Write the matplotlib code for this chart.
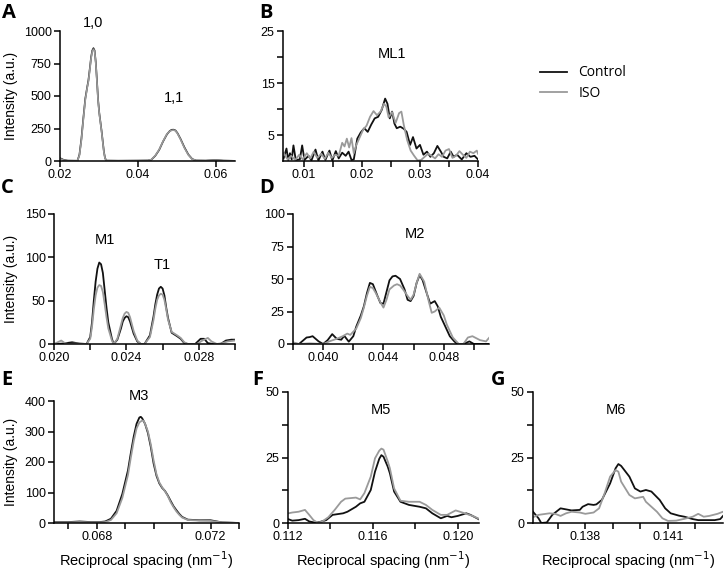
import numpy as np
import matplotlib
matplotlib.use('Agg')
import matplotlib.pyplot as plt

plt.rcParams['font.family'] = ['Liberation Sans', 'DejaVu Sans']

# ---- data ----
# A : equatorial 1,0 and 1,1
a_x_ctrl = [0.0200, 0.0205, 0.0210, 0.0220, 0.0240, 0.0245, 0.0250, 0.0255, 0.0260, 0.0265, 0.0270, 0.0273,
            0.0277, 0.0280, 0.0283, 0.0286, 0.0289, 0.0292, 0.0295, 0.0298, 0.0301, 0.0304, 0.0307, 0.0310,
            0.0313, 0.0316, 0.0320, 0.0350, 0.0400, 0.0426, 0.0435, 0.0445, 0.0455, 0.0465, 0.0475, 0.0482,
            0.0487, 0.0492, 0.0497, 0.0502, 0.0510, 0.0520, 0.0530, 0.0540, 0.0550, 0.0575, 0.0600, 0.0620,
            0.0650]
a_y_ctrl = [22, 15, 8, 3, 2, 2, 50, 170, 330, 480, 570, 620,
            720, 800, 850, 868, 850, 760, 620, 470, 370, 300, 230, 150,
            70, 20, 3, 2, 3, 4, 10, 40, 85, 150, 205, 230,
            240, 241, 235, 215, 170, 105, 50, 15, 4, 3, 8, 3,
            1]
a_x_iso = a_x_ctrl
a_y_iso = [18, 12, 6, 2, 2, 2, 45, 160, 320, 470, 565, 612,
           712, 792, 842, 860, 845, 755, 612, 462, 365, 295, 225, 145,
           65, 18, 3, 2, 3, 4, 11, 42, 88, 152, 208, 228,
           236, 238, 232, 212, 166, 100, 47, 14, 4, 3, 7, 3,
           1]

# B : ML1
b_x_ctrl = [0.0065, 0.0070, 0.0073, 0.0076, 0.0079, 0.0082, 0.0086, 0.0093, 0.0097, 0.0101, 0.0108, 0.0113,
            0.0120, 0.0125, 0.0132, 0.0137, 0.0144, 0.0149, 0.0155, 0.0160, 0.0166, 0.0172, 0.0177, 0.0182,
            0.0186, 0.0192, 0.0198, 0.0204, 0.0210, 0.0216, 0.0222, 0.0228, 0.0234, 0.0240, 0.0244, 0.0248,
            0.0252, 0.0256, 0.0260, 0.0266, 0.0272, 0.0277, 0.0283, 0.0288, 0.0294, 0.0300, 0.0306, 0.0312,
            0.0318, 0.0324, 0.0330, 0.0336, 0.0341, 0.0347, 0.0353, 0.0358, 0.0364, 0.0372, 0.0380, 0.0387,
            0.0394, 0.0400]
b_y_ctrl = [0.5, 2.4, 0.2, 1.5, 0.3, 3.0, 0.2, 0.3, 3.0, 0.2, 1.0, 0.1,
            2.2, 0.1, 1.8, 0.2, 2.0, 0.1, 1.9, 0.5, 1.6, 1.0, 1.8, 0.2,
            0.3, 4.3, 5.5, 6.3, 5.6, 7.0, 8.2, 8.5, 9.8, 12.0, 11.0, 8.2,
            9.5, 7.2, 6.3, 6.6, 6.2, 5.6, 3.1, 4.6, 2.4, 3.1, 1.2, 1.8,
            0.8, 1.5, 2.9, 1.8, 0.8, 0.5, 1.8, 0.8, 1.2, 0.3, 1.5, 0.8,
            1.0, 0.3]
b_x_iso = [0.0065, 0.0072, 0.0078, 0.0085, 0.0092, 0.0098, 0.0105, 0.0111, 0.0117, 0.0123, 0.0130, 0.0136,
           0.0142, 0.0148, 0.0154, 0.0160, 0.0166, 0.0170, 0.0174, 0.0178, 0.0182, 0.0186, 0.0190, 0.0196,
           0.0202, 0.0208, 0.0214, 0.0220, 0.0226, 0.0232, 0.0238, 0.0242, 0.0246, 0.0252, 0.0258, 0.0264,
           0.0268, 0.0272, 0.0278, 0.0284, 0.0290, 0.0296, 0.0302, 0.0308, 0.0314, 0.0320, 0.0326, 0.0332,
           0.0338, 0.0344, 0.0350, 0.0356, 0.0362, 0.0368, 0.0374, 0.0380, 0.0386, 0.0392, 0.0398, 0.0400]
b_y_iso = [1.5, 0.3, 1.0, 0.2, 1.2, 0.3, 1.5, 0.5, 1.8, 0.6, 1.4, 0.4,
           1.6, 0.6, 1.2, 1.0, 3.5, 2.8, 4.3, 2.6, 4.4, 1.5, 3.0, 4.5,
           6.0, 6.8, 8.5, 9.6, 8.8, 9.5, 11.0, 10.5, 8.4, 9.4, 7.3, 9.2,
           9.5, 7.0, 4.0, 2.0, 1.0, 0.1, 0.2, 0.8, 1.4, 1.0, 0.5, 1.3,
           0.8, 2.0, 2.3, 0.6, 1.0, 1.9, 1.2, 0.6, 1.8, 1.5, 2.0, 1.4]

# C : M1 / T1
c_x_ctrl = [0.0200, 0.0205, 0.0210, 0.0214, 0.0218, 0.0220, 0.0221, 0.0222, 0.0223, 0.0224, 0.0225, 0.0226,
            0.0227, 0.0228, 0.0229, 0.0230, 0.0232, 0.0233, 0.0235, 0.0237, 0.0238, 0.0239, 0.0240, 0.0241,
            0.0242, 0.0244, 0.0246, 0.0248, 0.0250, 0.0253, 0.0255, 0.0256, 0.0257, 0.0258, 0.0259, 0.0260,
            0.0261, 0.0262, 0.0263, 0.0265, 0.0268, 0.0270, 0.0272, 0.0274, 0.0278, 0.0281, 0.0283, 0.0285,
            0.0288, 0.0292, 0.0295, 0.0298, 0.0300]
c_y_ctrl = [0, 0.5, 2, 0.5, 0, 8, 25, 50, 72, 87, 94, 92,
            82, 62, 42, 25, 6, 0, 5, 18, 26, 30, 32, 31,
            26, 12, 3, 0, 0, 10, 32, 46, 57, 64, 66, 64,
            56, 42, 30, 13, 9, 6, 1, 0, 0, 6, 6, 1,
            0, 0, 4, 5, 5]
c_x_iso = [0.0200, 0.0202, 0.0204, 0.0206, 0.0208, 0.0212, 0.0218, 0.0220, 0.0221, 0.0222, 0.0223, 0.0224,
           0.0225, 0.0226, 0.0227, 0.0228, 0.0229, 0.0230, 0.0232, 0.0233, 0.0235, 0.0237, 0.0238, 0.0239,
           0.0240, 0.0241, 0.0242, 0.0244, 0.0246, 0.0248, 0.0250, 0.0253, 0.0255, 0.0256, 0.0257, 0.0258,
           0.0259, 0.0260, 0.0261, 0.0262, 0.0263, 0.0265, 0.0268, 0.0270, 0.0272, 0.0274, 0.0279, 0.0282,
           0.0285, 0.0287, 0.0290, 0.0293, 0.0296, 0.0300]
c_y_iso = [0, 2, 4, 1, 0, 0.5, 0, 6, 20, 40, 56, 65,
           68, 67, 60, 46, 31, 18, 4, 0, 6, 22, 30, 35,
           37, 36, 31, 15, 4, 0, 0, 8, 28, 41, 51, 56,
           58, 57, 51, 40, 28, 14, 10, 7, 2, 0, 0, 4,
           7, 3, 0, 1, 3, 4]

# D : M2
d_x_ctrl = [0.0378, 0.0384, 0.0389, 0.0391, 0.0393, 0.0397, 0.0400, 0.0403, 0.0406, 0.0409, 0.0412, 0.0414,
            0.0417, 0.0420, 0.0422, 0.0425, 0.0427, 0.0429, 0.0431, 0.0433, 0.0436, 0.0438, 0.0440, 0.0442,
            0.0444, 0.0446, 0.0448, 0.0451, 0.0454, 0.0456, 0.0458, 0.0460, 0.0462, 0.0464, 0.0466, 0.0469,
            0.0471, 0.0474, 0.0476, 0.0478, 0.0481, 0.0484, 0.0487, 0.0489, 0.0493, 0.0497, 0.0500, 0.0511]
d_y_ctrl = [0.5, 0, 5, 5.3, 6, 2, 0, 3, 7.6, 4, 3.3, 6.3,
            1.8, 6, 13.5, 22, 29, 39, 47, 46, 37, 31.5, 31, 40,
            49, 52, 52.5, 50, 42, 34, 33, 37, 47, 53, 49, 38,
            31, 33, 29, 21, 13.5, 6, 2, 0, 0, 2, 0, 0]
d_x_iso = [0.0378, 0.0384, 0.0391, 0.0400, 0.0404, 0.0409, 0.0413, 0.0416, 0.0418, 0.0422, 0.0425, 0.0427,
           0.0429, 0.0431, 0.0433, 0.0435, 0.0438, 0.0440, 0.0442, 0.0444, 0.0447, 0.0449, 0.0451, 0.0453,
           0.0456, 0.0458, 0.0460, 0.0462, 0.0464, 0.0467, 0.0470, 0.0472, 0.0474, 0.0477, 0.0480, 0.0482,
           0.0486, 0.0490, 0.0493, 0.0496, 0.0499, 0.0504, 0.0508, 0.0511]
d_y_iso = [2, 0, 0.5, 0, 2, 4, 6, 8, 7, 12, 20, 28,
           37, 44, 43, 39, 32, 28, 34, 42, 45, 46, 45, 42,
           37, 34, 38, 47, 54, 48, 33, 24, 25, 28, 22, 15,
           5, 0, 0, 5, 6, 3, 2, 6]

# E : M3
e_x_ctrl = [0.0665, 0.0670, 0.0674, 0.0678, 0.0681, 0.0683, 0.0685, 0.0687, 0.0689, 0.0691, 0.0692, 0.0693,
            0.0694, 0.0695, 0.06955, 0.0696, 0.0697, 0.0698, 0.0699, 0.0700, 0.0701, 0.0702, 0.0703, 0.0704,
            0.0705, 0.0706, 0.0707, 0.0708, 0.0709, 0.0710, 0.0712, 0.0716, 0.0720, 0.0724, 0.0730]
e_y_ctrl = [3, 3, 5, 3, 3, 5, 14, 40, 95, 173, 230, 283,
            325, 346, 348, 343, 325, 295, 250, 195, 155, 130, 115, 105,
            90, 72, 55, 42, 30, 20, 11, 9, 9, 2, 0]
e_x_iso = [0.0665, 0.0670, 0.0674, 0.0678, 0.0681, 0.0683, 0.0685, 0.0687, 0.0689, 0.0691, 0.0692, 0.0693,
           0.0694, 0.0695, 0.0696, 0.06965, 0.0697, 0.0698, 0.0699, 0.0700, 0.0701, 0.0702, 0.0703, 0.0704,
           0.0705, 0.0706, 0.0707, 0.0708, 0.0709, 0.0710, 0.0712, 0.0716, 0.0720, 0.0724, 0.0730]
e_y_iso = [2, 2, 3, 2, 2, 3, 10, 32, 82, 158, 215, 268,
           310, 330, 336, 335, 325, 300, 258, 205, 160, 133, 117, 104,
           88, 68, 52, 38, 27, 18, 10, 8, 7, 2, 0]

# F : M5
f_x_ctrl = [0.1119, 0.1122, 0.1125, 0.1128, 0.1130, 0.1133, 0.1135, 0.1138, 0.1141, 0.1146, 0.1148, 0.1152,
            0.1154, 0.1156, 0.1159, 0.1161, 0.1163, 0.1164, 0.1165, 0.1167, 0.1168, 0.1170, 0.1173, 0.1177,
            0.1182, 0.1185, 0.1188, 0.1192, 0.1195, 0.1197, 0.1200, 0.1204, 0.1206, 0.1210]
f_y_ctrl = [1.8, 0.9, 1.1, 1.6, 0.6, 0.1, 0.4, 1.1, 3.1, 3.7, 4.3, 6.2,
            7.5, 8.1, 12.6, 19.6, 24.5, 25.9, 25.3, 21.5, 19, 12, 8.1, 6.9,
            6.2, 5.6, 3.7, 1.8, 2.7, 2.2, 2.7, 3.7, 3.1, 1.4]
f_x_iso = [0.1119, 0.1122, 0.1125, 0.1128, 0.1130, 0.1132, 0.1134, 0.1136, 0.1139, 0.1142, 0.1145, 0.1147,
           0.1152, 0.1154, 0.1156, 0.1159, 0.1161, 0.1163, 0.1164, 0.1165, 0.1167, 0.1168, 0.1170, 0.1173,
           0.1177, 0.1182, 0.1185, 0.1188, 0.1192, 0.1195, 0.1199, 0.1201, 0.1204, 0.1207, 0.1210]
f_y_iso = [3.5, 4.0, 4.3, 5.0, 3.1, 1.1, 0.1, 0.5, 2.2, 5.0, 8.1, 9.3,
           9.7, 9.0, 11.4, 17.7, 24.7, 27.6, 28.4, 28.0, 23.5, 20.9, 13.2, 8.5,
           8.1, 8.1, 6.9, 5.0, 3.1, 3.1, 4.8, 4.3, 3.5, 2.7, 1.6]

# G : M6
g_x_ctrl = [0.1361, 0.1363, 0.1364, 0.1366, 0.1368, 0.1371, 0.1373, 0.1375, 0.1378, 0.1379, 0.1381, 0.1383,
            0.1384, 0.1386, 0.1389, 0.1391, 0.1392, 0.1393, 0.1396, 0.1398, 0.1400, 0.1402, 0.1404, 0.1407,
            0.1409, 0.1411, 0.1414, 0.1416, 0.1419, 0.1421, 0.1425, 0.1427, 0.1429, 0.1430]
g_y_ctrl = [4.3, 1.8, 0, 0.2, 3.1, 5.6, 5.2, 4.8, 5.0, 6.2, 7.2, 6.9,
            7.1, 8.8, 15.1, 20.9, 22.5, 21.8, 17.7, 13.2, 12, 12.6, 12, 8.8,
            5.6, 3.7, 2.8, 2.4, 1.5, 1.1, 1.1, 1.1, 1.5, 2.7]
g_x_iso = [0.1361, 0.1363, 0.1367, 0.1369, 0.1371, 0.1373, 0.1375, 0.1378, 0.1380, 0.1383, 0.1385, 0.1387,
           0.1389, 0.1391, 0.1392, 0.1393, 0.1396, 0.1398, 0.1400, 0.1401, 0.1402, 0.1406, 0.1408, 0.1410,
           0.1413, 0.1416, 0.1419, 0.1421, 0.1423, 0.1425, 0.1428, 0.1430]
g_y_iso = [2.2, 3.1, 3.7, 3.5, 2.7, 3.7, 4.3, 4.0, 3.5, 4.0, 5.6, 11.3,
           17.7, 20.2, 19.6, 15.8, 10.7, 9.4, 9.8, 10.0, 8.1, 4.3, 1.8, 0.8,
           0.9, 1.6, 2.4, 3.5, 2.4, 2.7, 3.5, 4.3]

ctrl_col = '#111111'
iso_col = '#9a9a9a'

fig = plt.figure(figsize=(7.25, 5.71), dpi=100)
W, H = 725.0, 571.0


def make_ax(l, r, b, t):
    ax = fig.add_axes([l / W, 1 - b / H, (r - l) / W, (b - t) / H])
    for s in ['top', 'right']:
        ax.spines[s].set_visible(False)
    for s in ['left', 'bottom']:
        ax.spines[s].set_linewidth(1.1)
    ax.tick_params(which='both', direction='out', length=4, width=1.1, labelsize=9, pad=2)
    return ax


def draw(ax, xc, yc, xi, yi, lw=1.3):
    ax.plot(xc, yc, color=ctrl_col, lw=lw, solid_joinstyle='round')
    ax.plot(xi, yi, color=iso_col, lw=lw, solid_joinstyle='round')


# A
ax = make_ax(60, 235, 161, 31)
draw(ax, a_x_ctrl, a_y_ctrl, a_x_iso, a_y_iso, lw=1.2)
ax.set_xlim(0.02, 0.065)
ax.set_ylim(0, 1000)
ax.set_xticks([0.02, 0.04, 0.06], ['0.02', '0.04', '0.06'])
ax.set_yticks([0, 250, 500, 750, 1000])
ax.text(0.0286, 1010, '1,0', ha='center', va='bottom', fontsize=10.5)
ax.text(0.0492, 430, '1,1', ha='center', va='bottom', fontsize=10.5)

# B
ax = make_ax(283, 478, 161, 31)
lc, = ax.plot(b_x_ctrl, b_y_ctrl, color=ctrl_col, lw=1.3)
li, = ax.plot(b_x_iso, b_y_iso, color=iso_col, lw=1.3)
ax.set_xlim(0.0064, 0.04)
ax.set_ylim(0, 25)
ax.set_xticks([0.01, 0.02, 0.03, 0.04], ['0.01', '0.02', '0.03', '0.04'])
ax.set_xticks([0.015, 0.025, 0.035], minor=True)
ax.set_yticks([5, 15, 25])
ax.set_yticks([10, 20], minor=True)
ax.text(0.0251, 20.5, 'ML1', ha='center', va='center', fontsize=10.5)

# C
ax = make_ax(54, 235, 344, 214)
draw(ax, c_x_ctrl, c_y_ctrl, c_x_iso, c_y_iso)
ax.set_xlim(0.02, 0.030)
ax.set_ylim(0, 150)
ax.set_xticks([0.020, 0.024, 0.028], ['0.020', '0.024', '0.028'])
ax.set_xticks([0.022, 0.026, 0.030], minor=True)
ax.set_yticks([0, 50, 100, 150])
ax.text(0.0228, 120, 'M1', ha='center', va='center', fontsize=10.5)
ax.text(0.0260, 91, 'T1', ha='center', va='center', fontsize=10.5)

# D
ax = make_ax(293, 489, 344, 214)
draw(ax, d_x_ctrl, d_y_ctrl, d_x_iso, d_y_iso)
ax.set_xlim(0.038, 0.0510)
ax.set_ylim(0, 100)
ax.set_xticks([0.040, 0.044, 0.048], ['0.040', '0.044', '0.048'])
ax.set_xticks([0.038, 0.042, 0.046, 0.050], minor=True)
ax.set_yticks([0, 25, 50, 75, 100])
ax.text(0.0461, 85, 'M2', ha='center', va='center', fontsize=10.5)

# E
ax = make_ax(54, 239, 523, 401)
draw(ax, e_x_ctrl, e_y_ctrl, e_x_iso, e_y_iso)
ax.set_xlim(0.0665, 0.0730)
ax.set_ylim(0, 400)
ax.set_xticks([0.068, 0.072], ['0.068', '0.072'])
ax.set_xticks([0.067, 0.069, 0.070, 0.071, 0.073], minor=True)
ax.set_yticks([0, 100, 200, 300, 400])
ax.text(0.0695, 418, 'M3', ha='center', va='center', fontsize=10.5)
ax.set_xlabel('Reciprocal spacing (nm$^{-1}$)', fontsize=10.5, labelpad=4)

# F
ax = make_ax(288, 479, 523, 392)
draw(ax, f_x_ctrl, f_y_ctrl, f_x_iso, f_y_iso)
ax.set_xlim(0.112, 0.1210)
ax.set_ylim(0, 50)
ax.set_xticks([0.112, 0.116, 0.120], ['0.112', '0.116', '0.120'])
ax.set_xticks([0.114, 0.118], minor=True)
ax.set_yticks([0, 25, 50])
ax.set_yticks([12.5, 37.5], minor=True)
ax.text(0.1164, 43, 'M5', ha='center', va='center', fontsize=10.5)
ax.set_xlabel('Reciprocal spacing (nm$^{-1}$)', fontsize=10.5, labelpad=4)

# G
ax = make_ax(533, 723, 523, 392)
draw(ax, g_x_ctrl, g_y_ctrl, g_x_iso, g_y_iso)
ax.set_xlim(0.1361, 0.1430)
ax.set_ylim(0, 50)
ax.set_xticks([0.138, 0.141], ['0.138', '0.141'])
ax.set_xticks([0.137, 0.139, 0.140, 0.142], minor=True)
ax.set_yticks([0, 25, 50])
ax.set_yticks([12.5, 37.5], minor=True)
ax.text(0.1391, 43, 'M6', ha='center', va='center', fontsize=10.5)
ax.set_xlabel('Reciprocal spacing (nm$^{-1}$)', fontsize=10.5, labelpad=4)

# y labels
for yc in [96, 279, 462]:
    fig.text(11 / W, 1 - yc / H, 'Intensity (a.u.)', rotation=90, ha='center', va='center', fontsize=10)

# panel letters
letters = [('A', 2, 13), ('B', 259, 13), ('C', 1, 188), ('D', 259, 188),
           ('E', 1, 380), ('F', 252, 380), ('G', 491, 380)]
for lab, px, py in letters:
    fig.text(px / W, 1 - py / H, lab, ha='left', va='center', fontsize=14.5,
             fontweight='bold', family=['Open Sans', 'DejaVu Sans'])

fig.legend([lc, li], ['Control', 'ISO'], loc='upper left', bbox_to_anchor=(527 / W, 1 - 53 / H),
           frameon=False, handlelength=2.0, handletextpad=0.8, labelspacing=0.4,
           prop={'family': ['Open Sans', 'DejaVu Sans'], 'size': 10})

fig.savefig('out.png', dpi=100)
